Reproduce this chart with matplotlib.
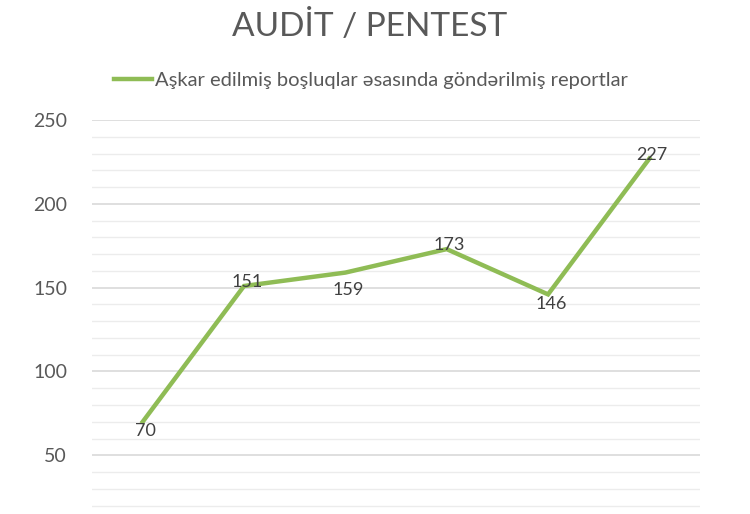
import matplotlib
matplotlib.use("Agg")
import matplotlib.pyplot as plt
from matplotlib.ticker import MultipleLocator

# data
categories = ["1", "2", "3", "4", "5", "6"]
reports = [70, 151, 159, 173, 146, 227]
series_name = "Aşkar edilmiş boşluqlar əsasında göndərilmiş reportlar"
title = "AUDİT / PENTEST"
yticks = [50, 100, 150, 200, 250]

plt.rcParams['font.family'] = ['Lato', 'DejaVu Sans']

fig = plt.figure(figsize=(7.5, 5.14), dpi=100)
ax = fig.add_axes([0.1227, 0.0, 0.8107, 0.7665])

x = list(range(len(categories)))
line, = ax.plot(x, reports, color="#8fbc55", linewidth=3.2, solid_joinstyle="miter",
                label=series_name, zorder=3)

# data labels: above or below the point, with a small nudge (points)
place = ["below", "above", "below", "above", "below", "above"]
nudge = [-1, -3, -7, -3, -1, -3]
for xi, yi, p, dy in zip(x, reports, place, nudge):
    ax.annotate(str(yi), (xi, yi), xytext=(2, dy), textcoords="offset points",
                ha="center", va="bottom" if p == "above" else "top",
                fontsize=13, color="#404040")

ax.set_xlim(-0.5, len(categories) - 0.5)
ax.set_ylim(15, 250)
ax.set_yticks(yticks)
ax.yaxis.set_minor_locator(MultipleLocator(10))
ax.grid(axis="y", which="major", color="#d9d9d9", linewidth=1.2)
ax.grid(axis="y", which="minor", color="#ececec", linewidth=1.0)
ax.set_axisbelow(True)
ax.set_xticks([])
ax.tick_params(axis="y", which="both", length=0, pad=18, labelsize=14, labelcolor="#595959")
for s in ax.spines.values():
    s.set_visible(False)

fig.text(0.493, 0.95, title, ha="center", va="center", fontsize=24, color="#595959")
fig.legend(handles=[line], loc="center", bbox_to_anchor=(0.495, 0.843), frameon=False,
           fontsize=14.5, labelcolor="#595959", handlelength=1.9, handletextpad=0.15)

fig.savefig("out.png", dpi=100)
